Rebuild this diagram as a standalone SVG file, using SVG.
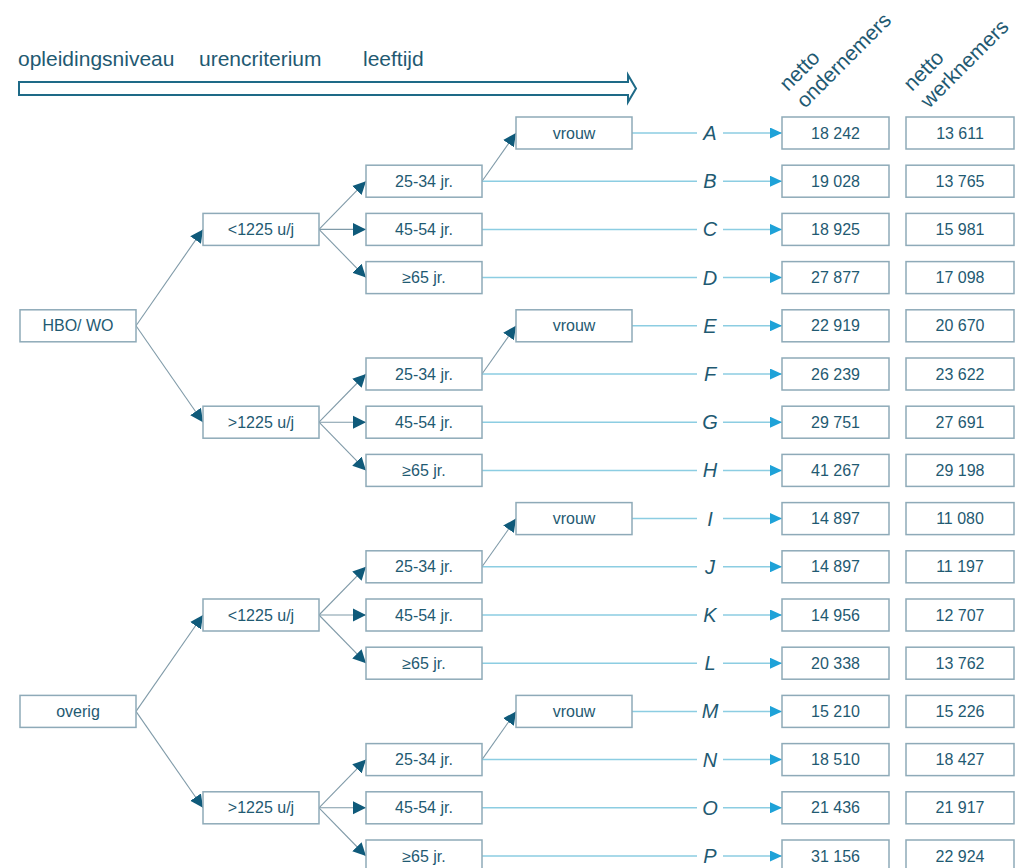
<svg xmlns="http://www.w3.org/2000/svg" width="1017" height="868" viewBox="0 0 1017 868">
<defs>
<marker id="ta" markerUnits="userSpaceOnUse" markerWidth="15" markerHeight="15" refX="13" refY="7" orient="auto"><path d="M0,0.5 L13,7 L0,13.5 z" fill="#0f5a7a"/></marker>
<marker id="ra" markerUnits="userSpaceOnUse" markerWidth="13" markerHeight="11" refX="12" refY="5.5" orient="auto"><path d="M0,0 L12,5.5 L0,11 z" fill="#1ea2d8"/></marker>
<style>
.box{fill:#fff;stroke:#8eaab8;stroke-width:1.5}
.t{font-family:"Liberation Sans",Arial,sans-serif;font-size:16px;fill:#1f5a72;text-anchor:middle}
.h{font-family:"Liberation Sans",Arial,sans-serif;font-size:21px;fill:#1f5a72}
.l{font-family:"Liberation Sans",Arial,sans-serif;font-size:20px;font-style:italic;fill:#1f5a72;text-anchor:middle}
.tree{stroke:#7f9aa8;stroke-width:1.1;fill:none;marker-end:url(#ta)}
.row{stroke:#8ccde2;stroke-width:1.5;fill:none}
.rowa{stroke:#8ccde2;stroke-width:1.5;fill:none;marker-end:url(#ra)}
</style>
</defs>
<rect width="1017" height="868" fill="#fff"/>
<g id="header">
<text class="h" x="18" y="66">opleidingsniveau</text>
<text class="h" x="199" y="66">urencriterium</text>
<text class="h" x="363" y="66">leeftijd</text>
<path d="M19,82 L628,82 L628,75 L636,88.5 L628,102 L628,95 L19,95 Z" fill="#fff" stroke="#1e6a87" stroke-width="2"/>
<text class="h" transform="translate(788,92) rotate(-45)">netto</text>
<text class="h" transform="translate(805,109) rotate(-45)">ondernemers</text>
<text class="h" transform="translate(912,92) rotate(-45)">netto</text>
<text class="h" transform="translate(929,109) rotate(-45)">werknemers</text>
</g>
<g id="connectors">
<line class="tree" x1="136" y1="325.8" x2="203" y2="229.4"/>
<line class="tree" x1="136" y1="325.8" x2="203" y2="422.2"/>
<line class="tree" x1="319" y1="229.4" x2="366" y2="181.2"/>
<line class="tree" x1="319" y1="229.4" x2="366" y2="229.4"/>
<line class="tree" x1="319" y1="229.4" x2="366" y2="277.6"/>
<line class="tree" x1="319" y1="422.2" x2="366" y2="374"/>
<line class="tree" x1="319" y1="422.2" x2="366" y2="422.2"/>
<line class="tree" x1="319" y1="422.2" x2="366" y2="470.4"/>
<line class="tree" x1="482" y1="181.2" x2="516" y2="133"/>
<line class="tree" x1="482" y1="374" x2="516" y2="325.8"/>
<line class="tree" x1="136" y1="711.4" x2="203" y2="615"/>
<line class="tree" x1="136" y1="711.4" x2="203" y2="807.8"/>
<line class="tree" x1="319" y1="615" x2="366" y2="566.8"/>
<line class="tree" x1="319" y1="615" x2="366" y2="615"/>
<line class="tree" x1="319" y1="615" x2="366" y2="663.2"/>
<line class="tree" x1="319" y1="807.8" x2="366" y2="759.6"/>
<line class="tree" x1="319" y1="807.8" x2="366" y2="807.8"/>
<line class="tree" x1="319" y1="807.8" x2="366" y2="856"/>
<line class="tree" x1="482" y1="566.8" x2="516" y2="518.6"/>
<line class="tree" x1="482" y1="759.6" x2="516" y2="711.4"/>
<path class="row" d="M632,133H697 M482,181.2H697 M482,229.4H697 M482,277.6H697 M632,325.8H697 M482,374H697 M482,422.2H697 M482,470.4H697 M632,518.6H697 M482,566.8H697 M482,615H697 M482,663.2H697 M632,711.4H697 M482,759.6H697 M482,807.8H697 M482,856H697"/>
<line class="rowa" x1="723" y1="133" x2="782" y2="133"/>
<line class="rowa" x1="723" y1="181.2" x2="782" y2="181.2"/>
<line class="rowa" x1="723" y1="229.4" x2="782" y2="229.4"/>
<line class="rowa" x1="723" y1="277.6" x2="782" y2="277.6"/>
<line class="rowa" x1="723" y1="325.8" x2="782" y2="325.8"/>
<line class="rowa" x1="723" y1="374" x2="782" y2="374"/>
<line class="rowa" x1="723" y1="422.2" x2="782" y2="422.2"/>
<line class="rowa" x1="723" y1="470.4" x2="782" y2="470.4"/>
<line class="rowa" x1="723" y1="518.6" x2="782" y2="518.6"/>
<line class="rowa" x1="723" y1="566.8" x2="782" y2="566.8"/>
<line class="rowa" x1="723" y1="615" x2="782" y2="615"/>
<line class="rowa" x1="723" y1="663.2" x2="782" y2="663.2"/>
<line class="rowa" x1="723" y1="711.4" x2="782" y2="711.4"/>
<line class="rowa" x1="723" y1="759.6" x2="782" y2="759.6"/>
<line class="rowa" x1="723" y1="807.8" x2="782" y2="807.8"/>
<line class="rowa" x1="723" y1="856" x2="782" y2="856"/>
</g>
<g id="n-hbo"><rect class="box" x="20" y="309.8" width="116" height="32"/><text class="t" x="78" y="331.3">HBO/ WO</text></g>
<g id="n-overig"><rect class="box" x="20" y="695.4" width="116" height="32"/><text class="t" x="78" y="716.9">overig</text></g>
<g id="n-h-lt"><rect class="box" x="203" y="213.4" width="116" height="32"/><text class="t" x="261" y="234.9">&lt;1225 u/j</text></g>
<g id="n-h-gt"><rect class="box" x="203" y="406.2" width="116" height="32"/><text class="t" x="261" y="427.7">&gt;1225 u/j</text></g>
<g id="n-o-lt"><rect class="box" x="203" y="599" width="116" height="32"/><text class="t" x="261" y="620.5">&lt;1225 u/j</text></g>
<g id="n-o-gt"><rect class="box" x="203" y="791.8" width="116" height="32"/><text class="t" x="261" y="813.3">&gt;1225 u/j</text></g>
<g id="n-age1"><rect class="box" x="366" y="165.2" width="116" height="32"/><text class="t" x="424" y="186.7">25-34 jr.</text></g>
<g id="n-age2"><rect class="box" x="366" y="213.4" width="116" height="32"/><text class="t" x="424" y="234.9">45-54 jr.</text></g>
<g id="n-age3"><rect class="box" x="366" y="261.6" width="116" height="32"/><text class="t" x="424" y="283.1">≥65 jr.</text></g>
<g id="n-age4"><rect class="box" x="366" y="358" width="116" height="32"/><text class="t" x="424" y="379.5">25-34 jr.</text></g>
<g id="n-age5"><rect class="box" x="366" y="406.2" width="116" height="32"/><text class="t" x="424" y="427.7">45-54 jr.</text></g>
<g id="n-age6"><rect class="box" x="366" y="454.4" width="116" height="32"/><text class="t" x="424" y="475.9">≥65 jr.</text></g>
<g id="n-age7"><rect class="box" x="366" y="550.8" width="116" height="32"/><text class="t" x="424" y="572.3">25-34 jr.</text></g>
<g id="n-age8"><rect class="box" x="366" y="599" width="116" height="32"/><text class="t" x="424" y="620.5">45-54 jr.</text></g>
<g id="n-age9"><rect class="box" x="366" y="647.2" width="116" height="32"/><text class="t" x="424" y="668.7">≥65 jr.</text></g>
<g id="n-age10"><rect class="box" x="366" y="743.6" width="116" height="32"/><text class="t" x="424" y="765.1">25-34 jr.</text></g>
<g id="n-age11"><rect class="box" x="366" y="791.8" width="116" height="32"/><text class="t" x="424" y="813.3">45-54 jr.</text></g>
<g id="n-age12"><rect class="box" x="366" y="840" width="116" height="32"/><text class="t" x="424" y="861.5">≥65 jr.</text></g>
<g id="n-v1"><rect class="box" x="516" y="117" width="116" height="32"/><text class="t" x="574" y="138.5">vrouw</text></g>
<g id="n-v2"><rect class="box" x="516" y="309.8" width="116" height="32"/><text class="t" x="574" y="331.3">vrouw</text></g>
<g id="n-v3"><rect class="box" x="516" y="502.6" width="116" height="32"/><text class="t" x="574" y="524.1">vrouw</text></g>
<g id="n-v4"><rect class="box" x="516" y="695.4" width="116" height="32"/><text class="t" x="574" y="716.9">vrouw</text></g>
<g id="letters">
<text class="l" x="710" y="140">A</text>
<text class="l" x="710" y="188.2">B</text>
<text class="l" x="710" y="236.4">C</text>
<text class="l" x="710" y="284.6">D</text>
<text class="l" x="710" y="332.8">E</text>
<text class="l" x="710" y="381">F</text>
<text class="l" x="710" y="429.2">G</text>
<text class="l" x="710" y="477.4">H</text>
<text class="l" x="710" y="525.6">I</text>
<text class="l" x="710" y="573.8">J</text>
<text class="l" x="710" y="622">K</text>
<text class="l" x="710" y="670.2">L</text>
<text class="l" x="710" y="718.4">M</text>
<text class="l" x="710" y="766.6">N</text>
<text class="l" x="710" y="814.8">O</text>
<text class="l" x="710" y="863">P</text>
</g>
<g id="n-ondernemers">
<rect class="box" x="782" y="117" width="107" height="32"/><text class="t" x="835.5" y="138.5">18 242</text>
<rect class="box" x="782" y="165.2" width="107" height="32"/><text class="t" x="835.5" y="186.7">19 028</text>
<rect class="box" x="782" y="213.4" width="107" height="32"/><text class="t" x="835.5" y="234.9">18 925</text>
<rect class="box" x="782" y="261.6" width="107" height="32"/><text class="t" x="835.5" y="283.1">27 877</text>
<rect class="box" x="782" y="309.8" width="107" height="32"/><text class="t" x="835.5" y="331.3">22 919</text>
<rect class="box" x="782" y="358" width="107" height="32"/><text class="t" x="835.5" y="379.5">26 239</text>
<rect class="box" x="782" y="406.2" width="107" height="32"/><text class="t" x="835.5" y="427.7">29 751</text>
<rect class="box" x="782" y="454.4" width="107" height="32"/><text class="t" x="835.5" y="475.9">41 267</text>
<rect class="box" x="782" y="502.6" width="107" height="32"/><text class="t" x="835.5" y="524.1">14 897</text>
<rect class="box" x="782" y="550.8" width="107" height="32"/><text class="t" x="835.5" y="572.3">14 897</text>
<rect class="box" x="782" y="599" width="107" height="32"/><text class="t" x="835.5" y="620.5">14 956</text>
<rect class="box" x="782" y="647.2" width="107" height="32"/><text class="t" x="835.5" y="668.7">20 338</text>
<rect class="box" x="782" y="695.4" width="107" height="32"/><text class="t" x="835.5" y="716.9">15 210</text>
<rect class="box" x="782" y="743.6" width="107" height="32"/><text class="t" x="835.5" y="765.1">18 510</text>
<rect class="box" x="782" y="791.8" width="107" height="32"/><text class="t" x="835.5" y="813.3">21 436</text>
<rect class="box" x="782" y="840" width="107" height="32"/><text class="t" x="835.5" y="861.5">31 156</text>
</g>
<g id="n-werknemers">
<rect class="box" x="906" y="117" width="108" height="32"/><text class="t" x="960" y="138.5">13 611</text>
<rect class="box" x="906" y="165.2" width="108" height="32"/><text class="t" x="960" y="186.7">13 765</text>
<rect class="box" x="906" y="213.4" width="108" height="32"/><text class="t" x="960" y="234.9">15 981</text>
<rect class="box" x="906" y="261.6" width="108" height="32"/><text class="t" x="960" y="283.1">17 098</text>
<rect class="box" x="906" y="309.8" width="108" height="32"/><text class="t" x="960" y="331.3">20 670</text>
<rect class="box" x="906" y="358" width="108" height="32"/><text class="t" x="960" y="379.5">23 622</text>
<rect class="box" x="906" y="406.2" width="108" height="32"/><text class="t" x="960" y="427.7">27 691</text>
<rect class="box" x="906" y="454.4" width="108" height="32"/><text class="t" x="960" y="475.9">29 198</text>
<rect class="box" x="906" y="502.6" width="108" height="32"/><text class="t" x="960" y="524.1">11 080</text>
<rect class="box" x="906" y="550.8" width="108" height="32"/><text class="t" x="960" y="572.3">11 197</text>
<rect class="box" x="906" y="599" width="108" height="32"/><text class="t" x="960" y="620.5">12 707</text>
<rect class="box" x="906" y="647.2" width="108" height="32"/><text class="t" x="960" y="668.7">13 762</text>
<rect class="box" x="906" y="695.4" width="108" height="32"/><text class="t" x="960" y="716.9">15 226</text>
<rect class="box" x="906" y="743.6" width="108" height="32"/><text class="t" x="960" y="765.1">18 427</text>
<rect class="box" x="906" y="791.8" width="108" height="32"/><text class="t" x="960" y="813.3">21 917</text>
<rect class="box" x="906" y="840" width="108" height="32"/><text class="t" x="960" y="861.5">22 924</text>
</g>
</svg>
